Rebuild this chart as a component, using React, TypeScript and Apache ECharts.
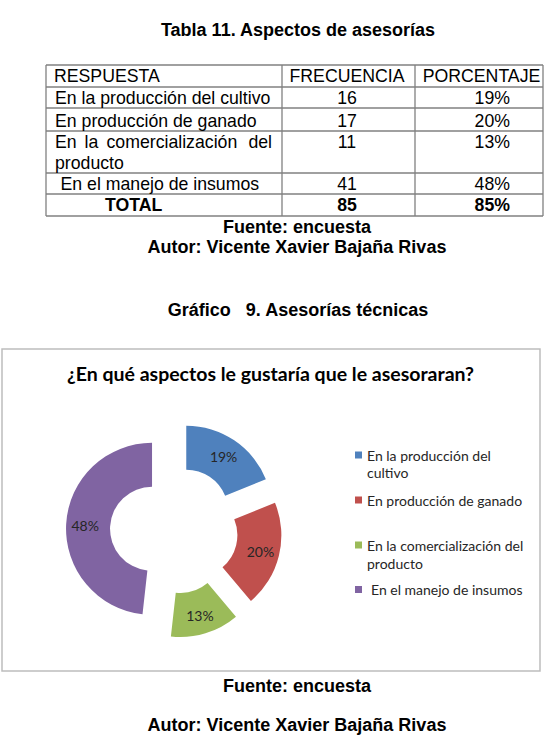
import React, { useEffect, useRef } from "react";
import * as echarts from "echarts";

// ---------- data ----------
const categories = [
  "En la producción del cultivo",
  "En producción de ganado",
  "En la comercialización del producto",
  "En el manejo de insumos",
];
const frequencies = [16, 17, 11, 41];
const percentages = ["19%", "20%", "13%", "48%"];
const totalLabel = "TOTAL";
const totalFrequency = "85";
const totalPercentage = "85%";
const headers = ["RESPUESTA", "FRECUENCIA", "PORCENTAJE"];
const legendLines = [
  ["En la producción del", "cultivo"],
  ["En producción de ganado"],
  ["En la comercialización del", "producto"],
  ["En el manejo de insumos"],
];
const colors = ["#4F81BD", "#C0504D", "#9BBB59", "#8064A2"];

const pageTitle = "Tabla 11. Aspectos de asesorías";
const sourceText = "Fuente: encuesta";
const authorText = "Autor: Vicente Xavier Bajaña Rivas";
const figureTitle = "Gráfico   9. Asesorías técnicas";
const chartTitle = "¿En qué aspectos le gustaría que le asesoraran?";

const ARIAL = "'Liberation Sans', Arial, sans-serif";
const CAL = "Lato, 'Open Sans', sans-serif";

function txt(text: string, x: number, y: number, size: number, bold: boolean, align: string, family = ARIAL, color = "#000") {
  return {
    type: "text",
    x,
    y,
    silent: true,
    style: {
      text,
      font: `${bold ? "bold " : ""}${size}px ${family}`,
      fill: color,
      align,
      verticalAlign: "middle",
      textAlign: align,
      textVerticalAlign: "middle",
    },
  };
}

function hline(x1: number, x2: number, y: number) {
  return { type: "line", silent: true, shape: { x1, y1: y, x2, y2: y }, style: { stroke: "#808080", lineWidth: 1.3 } };
}
function vline(x: number, y1: number, y2: number) {
  return { type: "line", silent: true, shape: { x1: x, y1, x2: x, y2 }, style: { stroke: "#808080", lineWidth: 1.3 } };
}

export default function App() {
  const ref = useRef<HTMLDivElement>(null);
  useEffect(() => {
    if (!ref.current) return;
    const chart = echarts.init(ref.current, undefined, { renderer: "svg" });

    const FS = 17.7;
    const tL = 46, tR = 543, c1 = 282, c2 = 415;
    const rowLines = [65, 87, 108, 131, 173, 194, 216];
    const colCenter2 = 347;
    const colRight3 = 510;
    const rowY = [98.3, 120.7, 141.7, 184];

    const graphic: any[] = [];
    // page texts
    graphic.push(txt(pageTitle, 298, 30, 18, true, "center"));
    graphic.push(txt(sourceText, 297, 227, 18, true, "center"));
    graphic.push(txt(authorText, 297, 247, 18, true, "center"));
    graphic.push(txt(figureTitle, 298, 310, 18, true, "center"));
    graphic.push(txt(sourceText, 297, 686, 18, true, "center"));
    graphic.push(txt(authorText, 297, 725, 18, true, "center"));

    // table grid
    rowLines.forEach((y) => graphic.push(hline(tL, tR, y)));
    [tL, c1, c2, tR].forEach((x) => graphic.push(vline(x, rowLines[0], rowLines[rowLines.length - 1])));

    // header
    graphic.push(txt(headers[0], 54, 75.7, FS, false, "left"));
    graphic.push(txt(headers[1], colCenter2, 75.7, FS, false, "center"));
    graphic.push(txt(headers[2], 481.5, 75.7, FS, false, "center"));

    // rows
    graphic.push(txt(categories[0], 55, rowY[0], FS, false, "left"));
    graphic.push(txt(categories[1], 55, rowY[1], FS, false, "left"));
    // justified row 3
    const words = categories[2].split(" ");
    graphic.push(txt(words[0], 55, rowY[2], FS, false, "left"));
    graphic.push(txt(words[1], 84.5, rowY[2], FS, false, "left"));
    graphic.push(txt(words[2], 106.5, rowY[2], FS, false, "left"));
    graphic.push(txt(words[3], 272, rowY[2], FS, false, "right"));
    graphic.push(txt(words[4], 55, 162.7, FS, false, "left"));
    graphic.push(txt(categories[3], 60.5, rowY[3], FS, false, "left"));

    frequencies.forEach((f, i) => {
      graphic.push(txt(String(f), colCenter2, rowY[i], FS, false, "center"));
      graphic.push(txt(percentages[i], colRight3, rowY[i], FS, false, "right"));
    });
    graphic.push(txt(totalLabel, 105, 205, FS, true, "left"));
    graphic.push(txt(totalFrequency, colCenter2, 205, FS, true, "center"));
    graphic.push(txt(totalPercentage, colRight3, 205, FS, true, "right"));

    // chart box
    graphic.push({
      type: "rect",
      silent: true,
      z: -10,
      shape: { x: 2, y: 349, width: 538, height: 322 },
      style: { fill: "#fff", stroke: "#bdbdbd", lineWidth: 1.5 },
    });

    // legend continuation lines
    graphic.push(txt(legendLines[0][1], 367, 472, 14, false, "left", CAL, "#262626"));
    graphic.push(txt(legendLines[2][1], 367, 563, 14, false, "left", CAL, "#262626"));

    const legendTops = [447, 492, 537, 581.5];
    const legends = categories.map((name, i) => ({
      data: [name],
      left: 355,
      top: legendTops[i],
      padding: 0,
      itemWidth: 7,
      itemHeight: 7,
      icon: "rect",
      selectedMode: false,
      formatter: () => legendLines[i][0],
      textStyle: {
        fontFamily: CAL,
        fontSize: 14,
        color: "#262626",
        lineHeight: 16,
        padding: i === 3 ? [0, 0, 0, 4] : 0,
      },
    }));

    chart.setOption({
      animation: false,
      color: colors,
      title: {
        text: chartTitle,
        left: 270.5,
        top: 363,
        textAlign: "center",
        padding: 0,
        textStyle: { fontFamily: CAL, fontWeight: "bold", fontSize: 19.5, color: "#000" },
      },
      legend: legends,
      graphic,
      series: [
        {
          type: "pie",
          center: [174, 530],
          radius: [42, 86],
          startAngle: 90,
          clockwise: true,
          selectedMode: "multiple",
          selectedOffset: 22,
          percentPrecision: 0,
          label: {
            show: true,
            position: "inside",
            formatter: "{d}%",
            fontFamily: CAL,
            fontSize: 14,
            color: "#262626",
          },
          labelLine: { show: false },
          emphasis: { disabled: true },
          data: categories.map((name, i) => ({
            name,
            value: frequencies[i],
            selected: true,
            itemStyle: { color: colors[i] },
            select: { itemStyle: { color: colors[i] }, label: { color: "#262626" } },
          })),
        },
      ],
    });
    return () => chart.dispose();
  }, []);
  return (
    <div
      ref={ref}
      style={{ position: "fixed", left: 0, top: 0, width: 559, height: 735, background: "#fff" }}
    />
  );
}
